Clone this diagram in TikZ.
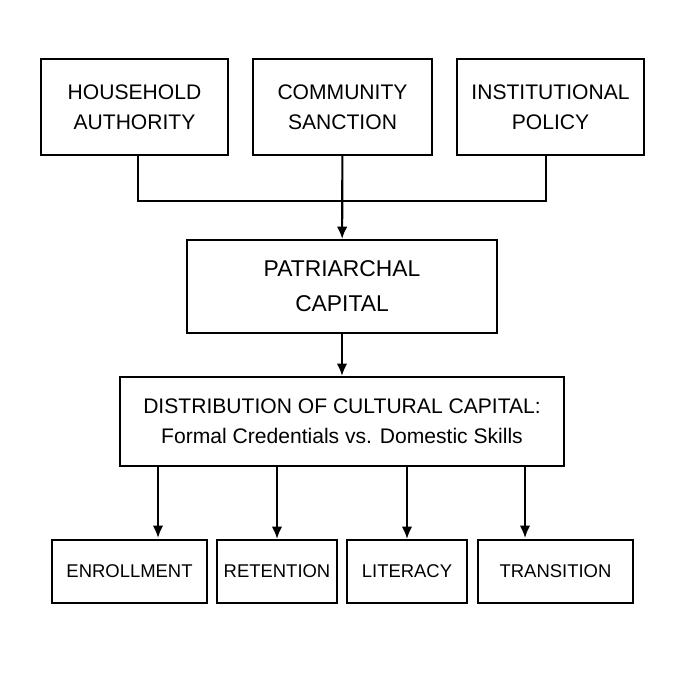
\documentclass[tikz,border=0pt]{standalone}
\usepackage{fontspec}
\setmainfont{Liberation Sans}
\usetikzlibrary{arrows.meta}
\tikzset{
  box/.style={draw, line width=1.2pt, align=center, font=\fontsize{12}{17}\selectfont},
  arr/.style={-{Latex[length=7pt,width=6pt]}, line width=1.2pt}
}
\begin{document}
\begin{tikzpicture}[x=0.02cm,y=-0.02cm]
        \useasboundingbox (0,0) rectangle (685,685);
        \node [box, minimum width=187*0.02cm, minimum height=96*0.02cm] (House) at (134.5,107) {HOUSEHOLD\\AUTHORITY};
        \node [box, minimum width=179*0.02cm, minimum height=96*0.02cm] (Comm) at (342.5,107) {COMMUNITY\\SANCTION};
        \node [box, minimum width=187*0.02cm, minimum height=96*0.02cm] (Inst) at (550.5,107) {INSTITUTIONAL\\POLICY};
        \node [box, minimum width=310*0.02cm, minimum height=93*0.02cm, font=\fontsize{13}{20}\selectfont] (Patr) at (342,286.5) {PATRIARCHAL\\CAPITAL};
        \node [box, minimum width=444*0.02cm, minimum height=89*0.02cm] (Dist) at (342,421.5) {DISTRIBUTION OF CULTURAL CAPITAL:\\\normalfont\fontsize{12}{17}\selectfont Formal Credentials vs. Domestic Skills};
        \node [box, minimum width=155*0.02cm, minimum height=63*0.02cm, font=\fontsize{10.5}{12}\selectfont] (Enr) at (129.5,571.5) {ENROLLMENT};
        \node [box, minimum width=120*0.02cm, minimum height=63*0.02cm, font=\fontsize{10.5}{12}\selectfont] (Ret) at (277,571.5) {RETENTION};
        \node [box, minimum width=120*0.02cm, minimum height=63*0.02cm, font=\fontsize{10.5}{12}\selectfont] (Lit) at (407,571.5) {LITERACY};
        \node [box, minimum width=155*0.02cm, minimum height=63*0.02cm, font=\fontsize{10.5}{12}\selectfont] (Tra) at (555.5,571.5) {TRANSITION};

        % Merge of the three sources
        \coordinate (Join) at (342.5,201);
        \draw[line width=1.2pt] ([xshift=3.5*0.02cm]House.south) |- (Join);
        \draw[line width=1.2pt] ([xshift=-4.5*0.02cm]Inst.south) |- (Join);
        \draw[arr] (Comm) -- (Patr);
        \draw[arr] (Patr) -- (Dist);

        % Outcomes
        \draw[arr] (Dist.south -| 158,0) -- (158,538);
        \draw[arr] (Dist.south -| Ret) -- (Ret);
        \draw[arr] (Dist.south -| Lit) -- (Lit);
        \draw[arr] (Dist.south -| 525,0) -- (525,538);
\end{tikzpicture}
\end{document}
